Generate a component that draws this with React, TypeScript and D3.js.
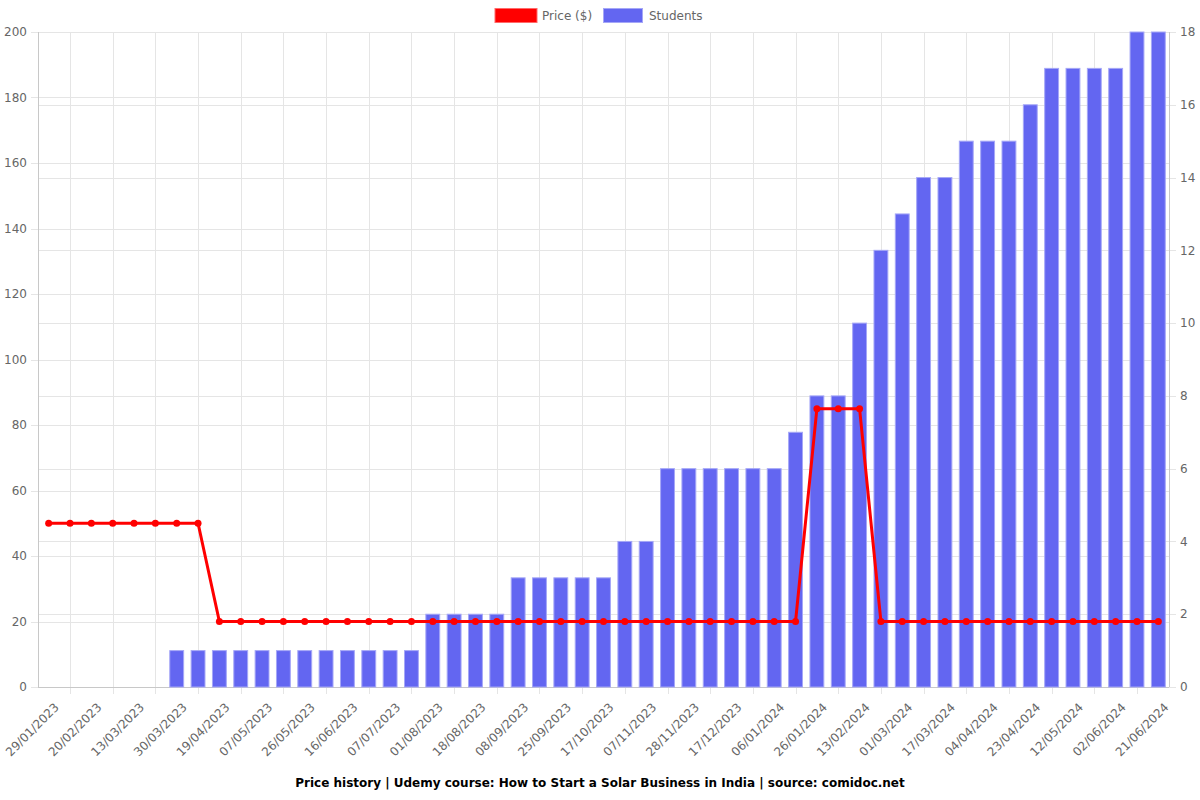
import React, { useEffect, useRef } from "react";
import * as d3 from "d3";

// dates (only every other one is shown on the axis)
const dates = [
  "29/01/2023", "09/02/2023", "20/02/2023", "02/03/2023", "13/03/2023", "21/03/2023",
  "30/03/2023", "09/04/2023", "19/04/2023", "28/04/2023", "07/05/2023", "16/05/2023",
  "26/05/2023", "05/06/2023", "16/06/2023", "26/06/2023", "07/07/2023", "19/07/2023",
  "01/08/2023", "09/08/2023", "18/08/2023", "29/08/2023", "08/09/2023", "16/09/2023",
  "25/09/2023", "06/10/2023", "17/10/2023", "27/10/2023", "07/11/2023", "17/11/2023",
  "28/11/2023", "07/12/2023", "17/12/2023", "27/12/2023", "06/01/2024", "16/01/2024",
  "26/01/2024", "04/02/2024", "13/02/2024", "21/02/2024", "01/03/2024", "09/03/2024",
  "17/03/2024", "26/03/2024", "04/04/2024", "13/04/2024", "23/04/2024", "02/05/2024",
  "12/05/2024", "22/05/2024", "02/06/2024", "11/06/2024", "21/06/2024",
];

const price = [
  50, 50, 50, 50, 50, 50, 50, 50,
  20, 20, 20, 20, 20, 20, 20, 20, 20, 20, 20, 20, 20, 20, 20, 20, 20, 20, 20, 20,
  20, 20, 20, 20, 20, 20, 20, 20,
  85, 85, 85,
  20, 20, 20, 20, 20, 20, 20, 20, 20, 20, 20, 20, 20, 20,
];

const students = [
  0, 0, 0, 0, 0, 0,
  1, 1, 1, 1, 1, 1, 1, 1, 1, 1, 1, 1,
  2, 2, 2, 2,
  3, 3, 3, 3, 3,
  4, 4,
  6, 6, 6, 6, 6, 6,
  7, 8, 8, 10, 12, 13, 14, 14, 15, 15, 15, 16,
  17, 17, 17, 17, 18, 18,
];

const leftTicks = [0, 20, 40, 60, 80, 100, 120, 140, 160, 180, 200];
const rightTicks = [0, 2, 4, 6, 8, 10, 12, 14, 16, 18];

const title =
  "Price history | Udemy course: How to Start a Solar Business in India | source: comidoc.net";

const App = () => {
  const ref = useRef<SVGSVGElement>(null);

  useEffect(() => {
    makeGraph();
  }, []);

  const makeGraph = () => {
    const width = 1200;
    const height = 800;
    const margin = { top: 32, left: 38, bottom: 113, right: 31 };
    const font = "DejaVu Sans, sans-serif";
    const grey = "#666";
    const gridColor = "#e5e5e5";

    const svg = d3.select(ref.current);
    svg.selectAll("*").remove();

    const x = d3
      .scaleBand()
      .domain(dates)
      .range([margin.left, width - margin.right]);

    const y = d3
      .scaleLinear()
      .domain([0, 200])
      .range([height - margin.bottom, margin.top]);

    const y2 = d3
      .scaleLinear()
      .domain([0, 18])
      .range([height - margin.bottom, margin.top]);

    const cx = (d: string) => (x(d) as number) + x.bandwidth() / 2;
    const bottom = height - margin.bottom;

    // grid
    const grid = svg.append("g").attr("stroke", gridColor).attr("stroke-width", 1);
    grid
      .selectAll("line.gl")
      .data(leftTicks)
      .enter()
      .append("line")
      .attr("x1", margin.left - 7)
      .attr("x2", width - margin.right)
      .attr("y1", (d) => Math.round(y(d)) + 0.5)
      .attr("y2", (d) => Math.round(y(d)) + 0.5);
    grid
      .selectAll("line.gr")
      .data(rightTicks)
      .enter()
      .append("line")
      .attr("x1", margin.left)
      .attr("x2", width - margin.right + 7)
      .attr("y1", (d) => Math.round(y2(d)) + 0.5)
      .attr("y2", (d) => Math.round(y2(d)) + 0.5);
    const oddDates = dates.filter((_, i) => i % 2 === 1);
    grid
      .selectAll("line.gv")
      .data(oddDates)
      .enter()
      .append("line")
      .attr("x1", (d) => Math.round(cx(d)) + 0.5)
      .attr("x2", (d) => Math.round(cx(d)) + 0.5)
      .attr("y1", margin.top)
      .attr("y2", bottom + 7);

    // axis borders
    const border = svg.append("g").attr("stroke", "#c8c8c8").attr("stroke-width", 1);
    border
      .append("line")
      .attr("x1", margin.left + 0.5)
      .attr("x2", margin.left + 0.5)
      .attr("y1", margin.top)
      .attr("y2", bottom);
    border
      .append("line")
      .attr("x1", width - margin.right + 0.5)
      .attr("x2", width - margin.right + 0.5)
      .attr("y1", margin.top)
      .attr("y2", bottom);
    border
      .append("line")
      .attr("x1", margin.left)
      .attr("x2", width - margin.right)
      .attr("y1", bottom + 0.5)
      .attr("y2", bottom + 0.5);

    // tick labels
    svg
      .append("g")
      .selectAll("text")
      .data(leftTicks)
      .enter()
      .append("text")
      .text((d) => d)
      .attr("x", margin.left - 11)
      .attr("y", (d) => y(d))
      .attr("dy", "0.35em")
      .attr("text-anchor", "end")
      .attr("font-family", font)
      .attr("font-size", "12px")
      .attr("fill", grey);

    svg
      .append("g")
      .selectAll("text")
      .data(rightTicks)
      .enter()
      .append("text")
      .text((d) => d)
      .attr("x", width - margin.right + 11)
      .attr("y", (d) => y2(d))
      .attr("dy", "0.35em")
      .attr("text-anchor", "start")
      .attr("font-family", font)
      .attr("font-size", "12px")
      .attr("fill", grey);

    const evenDates = dates.filter((_, i) => i % 2 === 0);
    svg
      .append("g")
      .selectAll("text")
      .data(evenDates)
      .enter()
      .append("text")
      .text((d) => d)
      .attr(
        "transform",
        (d) => `translate(${cx(d) + 8}, ${bottom + 18}) rotate(-45)`
      )
      .attr("dy", "0.35em")
      .attr("text-anchor", "end")
      .attr("font-family", font)
      .attr("font-size", "12px")
      .attr("fill", grey);

    // bars
    const barW = x.bandwidth() * 0.65;
    svg
      .append("g")
      .selectAll("rect")
      .data(dates.map((d, i) => ({ d, v: students[i] })).filter((e) => e.v > 0))
      .enter()
      .append("rect")
      .attr("x", (e) => cx(e.d) - barW / 2)
      .attr("y", (e) => y2(e.v))
      .attr("width", barW)
      .attr("height", (e) => bottom - y2(e.v))
      .attr("fill", "#6366f1")
      .attr("stroke", "#a5a7f7")
      .attr("stroke-width", 1);

    // price line
    const line = d3
      .line<number>()
      .x((_, i) => cx(dates[i]))
      .y((v) => y(v));

    svg
      .append("path")
      .datum(price)
      .attr("fill", "none")
      .attr("stroke", "#ff0000")
      .attr("stroke-width", 3)
      .attr("d", line);

    svg
      .append("g")
      .selectAll("circle")
      .data(price)
      .enter()
      .append("circle")
      .attr("cx", (_, i) => cx(dates[i]))
      .attr("cy", (v) => y(v))
      .attr("r", 3.5)
      .attr("fill", "#ff0000");

    // legend
    const legend = svg.append("g").attr("font-family", font).attr("font-size", "12px");
    legend
      .append("rect")
      .attr("x", 495)
      .attr("y", 8.5)
      .attr("width", 42)
      .attr("height", 14)
      .attr("fill", "#ff0000")
      .attr("stroke", "#ff6a6a")
      .attr("stroke-width", 1);
    legend
      .append("text")
      .text("Price ($)")
      .attr("x", 542)
      .attr("y", 16)
      .attr("dy", "0.35em")
      .attr("fill", grey);
    legend
      .append("rect")
      .attr("x", 603.5)
      .attr("y", 8.5)
      .attr("width", 39)
      .attr("height", 14)
      .attr("fill", "#6366f1")
      .attr("stroke", "#a5a7f7")
      .attr("stroke-width", 1);
    legend
      .append("text")
      .text("Students")
      .attr("x", 649)
      .attr("y", 16)
      .attr("dy", "0.35em")
      .attr("fill", grey);

    // title
    svg
      .append("text")
      .text(title)
      .attr("x", width / 2)
      .attr("y", 783)
      .attr("dy", "0.35em")
      .attr("text-anchor", "middle")
      .attr("font-family", font)
      .attr("font-size", "12px")
      .attr("font-weight", "bold")
      .attr("fill", "#000");
  };

  return (
    <svg
      ref={ref}
      width={1200}
      height={800}
      style={{ position: "absolute", left: 0, top: 0, background: "#fff" }}
    />
  );
};

export default App;
